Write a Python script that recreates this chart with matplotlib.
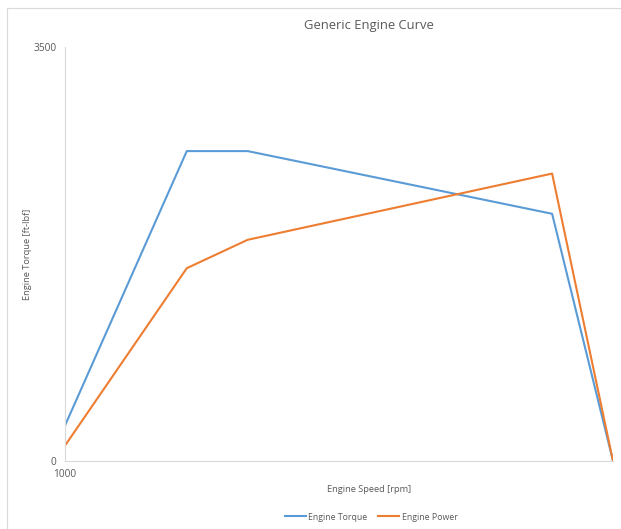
import matplotlib.pyplot as plt
from matplotlib.lines import Line2D

plt.rcParams['font.family'] = ['Open Sans', 'DejaVu Sans']

# engine curve data
speed = [1000, 2000, 2500, 5000, 5500]
torque = [300, 2620, 2620, 2090, 0]
power = [130, 1630, 1870, 2430, 0]

grey = '#595959'

fig = plt.figure(figsize=(6.21, 5.29), dpi=100)
# chart border like excel (left and top only visible)
bx, by = 6.5 / 621, 1 - 7.5 / 529
fig.lines.append(Line2D([bx, bx], [0, by], transform=fig.transFigure, color='#d9d9d9', lw=0.8))
fig.lines.append(Line2D([bx, 1], [by, by], transform=fig.transFigure, color='#d9d9d9', lw=0.8))

ax = fig.add_axes([65 / 621, 68 / 529, (613 - 65) / 621, (461 - 47) / 529])
ax.plot(speed, torque, color='#5B9BD5', lw=1.5, label='Engine Torque')
ax.plot(speed, power, color='#ED7D31', lw=1.5, label='Engine Power')

ax.set_xlim(1000, 5500)
ax.set_ylim(0, 3500)
ax.set_xticks([1000])
ax.set_yticks([0, 3500])
ax.tick_params(length=0, labelsize=7.3, labelcolor=grey, pad=6)
for s in ['top', 'right']:
    ax.spines[s].set_visible(False)
for s in ['left', 'bottom']:
    ax.spines[s].set_color('#d9d9d9')
    ax.spines[s].set_linewidth(0.8)

fig.text(369 / 621, 1 - 25 / 529, 'Generic Engine Curve', ha='center', va='center',
         fontsize=9.4, color=grey)
fig.text(369 / 621, 1 - 489 / 529, 'Engine Speed [rpm]', ha='center', va='center',
         fontsize=6.7, color=grey)
fig.text(28 / 621, 1 - 254 / 529, 'Engine Torque [ft-lbf]', ha='center', va='center',
         fontsize=6.7, color=grey, rotation=90)

leg = fig.legend(loc='center', bbox_to_anchor=(371 / 621, 1 - 517 / 529), ncol=2,
                 frameon=False, fontsize=6.3, handlelength=2.4, handletextpad=0.3,
                 columnspacing=1.2)
for t in leg.get_texts():
    t.set_color(grey)

fig.savefig('out.png', dpi=100)
